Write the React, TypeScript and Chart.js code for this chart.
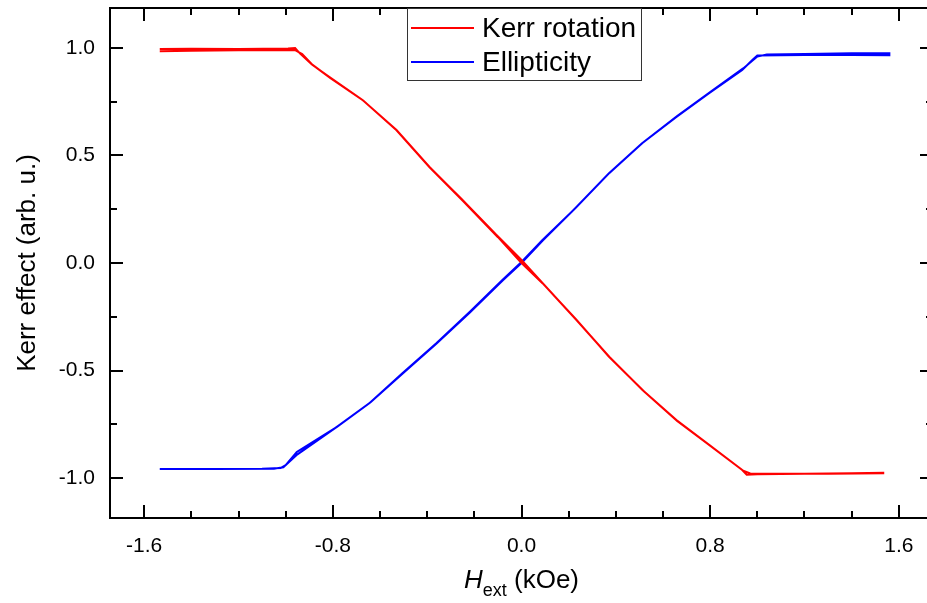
import React, { useEffect, useRef } from "react";
import { Chart, registerables } from "chart.js";

Chart.register(...registerables);

const FONT = '"Liberation Sans", Arial, Helvetica, sans-serif';

// Tick labels
const xTickValues = [-1.6, -0.8, 0.0, 0.8, 1.6];
const yTickValues = [-1.0, -0.5, 0.0, 0.5, 1.0];
const xMinorStep = 0.2;
const yMinorStep = 0.25;

const seriesNames = ["Kerr rotation", "Ellipticity"];
const seriesColors = ["#ff0000", "#0000ff"];

// Kerr rotation: field sweep up (kOe) and signal
const kerrFieldUp = [-1.534, -1.4, -1.2, -1.05, -0.96, -0.93, -0.886, -0.814, -0.674, -0.53, -0.39, -0.25, -0.106, 0.0, 0.089, 0.233, 0.373, 0.513, 0.657, 0.797, 0.936, 0.955, 1.0, 1.2, 1.4, 1.534];
const kerrUp = [0.985, 0.987, 0.989, 0.99, 0.99, 0.972, 0.921, 0.865, 0.758, 0.619, 0.447, 0.293, 0.13, 0.014, -0.093, -0.265, -0.437, -0.591, -0.73, -0.847, -0.963, -0.985, -0.982, -0.98, -0.978, -0.976];
// Kerr rotation: field sweep down
const kerrFieldDown = [1.534, 1.3, 1.1, 0.97, 0.94, 0.8, 0.66, 0.52, 0.37, 0.23, 0.09, 0.0, -0.1, -0.25, -0.39, -0.53, -0.67, -0.81, -0.89, -0.94, -0.96, -0.99, -1.2, -1.4, -1.534];
const kerrDown = [-0.978, -0.98, -0.98, -0.979, -0.966, -0.85, -0.735, -0.598, -0.435, -0.26, -0.095, 0.0, 0.12, 0.29, 0.445, 0.617, 0.755, 0.86, 0.925, 0.975, 1.0, 0.998, 0.995, 0.997, 0.995];

// Ellipticity: field sweep up and signal
const ellipFieldUp = [-1.534, -1.3, -1.1, -1.02, -1.0, -0.953, -0.784, -0.644, -0.504, -0.36, -0.22, -0.081, 0.0, 0.089, 0.233, 0.373, 0.513, 0.657, 0.797, 0.936, 0.98, 1.0, 1.2, 1.4, 1.56];
const ellipUp = [-0.958, -0.958, -0.957, -0.953, -0.94, -0.879, -0.763, -0.651, -0.512, -0.372, -0.228, -0.079, 0.005, 0.107, 0.26, 0.419, 0.558, 0.679, 0.791, 0.898, 0.945, 0.965, 0.967, 0.967, 0.966];
// Ellipticity: field sweep down
const ellipFieldDown = [1.56, 1.4, 1.2, 1.04, 1.0, 0.94, 0.8, 0.66, 0.51, 0.37, 0.23, 0.09, 0.0, -0.08, -0.22, -0.36, -0.5, -0.64, -0.78, -0.95, -1.01, -1.05, -1.3, -1.534];
const ellipDown = [0.976, 0.975, 0.972, 0.97, 0.96, 0.905, 0.795, 0.683, 0.556, 0.416, 0.257, 0.104, 0.0, -0.082, -0.232, -0.375, -0.51, -0.648, -0.76, -0.89, -0.95, -0.957, -0.958, -0.958];

const xRange = [-1.745, 1.745];
const yRange = [-1.186, 1.186];

const toPoints = (xs: number[], ys: number[]) => xs.map((x, i) => ({ x, y: ys[i] }));

const framePlugin = {
  id: "frameAndDecor",
  afterDraw(chart: any) {
    const { ctx, chartArea } = chart;
    const { left, right, top, bottom } = chartArea;
    const xs = chart.scales.x;
    const ys = chart.scales.y;
    ctx.save();
    ctx.strokeStyle = "#000";
    ctx.lineWidth = 2;
    ctx.lineCap = "butt";
    ctx.strokeRect(left, top, right - left, bottom - top);

    // x ticks (top and bottom, inward)
    const nx = Math.round(xTickValues[xTickValues.length - 1] / xMinorStep);
    for (let i = -nx; i <= nx; i++) {
      const v = i * xMinorStep;
      const major = xTickValues.some((t) => Math.abs(t - v) < 1e-6);
      const len = major ? 13 : 7;
      const px = Math.round(xs.getPixelForValue(v));
      ctx.beginPath();
      ctx.moveTo(px, bottom);
      ctx.lineTo(px, bottom - len);
      ctx.moveTo(px, top);
      ctx.lineTo(px, top + len);
      ctx.stroke();
    }
    // y ticks (left and right, inward)
    const ny = Math.round(yTickValues[yTickValues.length - 1] / yMinorStep);
    for (let i = -ny; i <= ny; i++) {
      const v = i * yMinorStep;
      const major = yTickValues.some((t) => Math.abs(t - v) < 1e-6);
      const len = major ? 13 : 7;
      const py = Math.round(ys.getPixelForValue(v));
      ctx.beginPath();
      ctx.moveTo(left, py);
      ctx.lineTo(left + len, py);
      ctx.moveTo(right, py);
      ctx.lineTo(right - len, py);
      ctx.stroke();
    }

    // Legend
    const lx = 407.5, ly = 8.5, lw = 234, lh = 72;
    ctx.fillStyle = "#fff";
    ctx.fillRect(lx, ly, lw, lh);
    ctx.lineWidth = 1;
    ctx.strokeStyle = "#333";
    ctx.strokeRect(lx, ly, lw, lh);
    ctx.font = `28px ${FONT}`;
    ctx.textBaseline = "middle";
    ctx.textAlign = "left";
    const rows = [28, 62];
    seriesNames.forEach((name, i) => {
      ctx.strokeStyle = seriesColors[i];
      ctx.lineWidth = 2;
      ctx.beginPath();
      ctx.moveTo(411, rows[i]);
      ctx.lineTo(474, rows[i]);
      ctx.stroke();
      ctx.fillStyle = "#000";
      ctx.fillText(name, 482, rows[i] + 1);
    });

    // Y title
    ctx.save();
    ctx.translate(28, (top + bottom) / 2);
    ctx.rotate(-Math.PI / 2);
    ctx.font = `26px ${FONT}`;
    ctx.textAlign = "center";
    ctx.textBaseline = "middle";
    ctx.fillStyle = "#000";
    ctx.fillText("Kerr effect (arb. u.)", 0, 0);
    ctx.restore();

    // X title: H_ext (kOe)
    const base = 588;
    ctx.textBaseline = "alphabetic";
    ctx.textAlign = "left";
    ctx.fillStyle = "#000";
    ctx.font = `italic 26px ${FONT}`;
    const wH = ctx.measureText("H").width;
    ctx.font = `18px ${FONT}`;
    const wS = ctx.measureText("ext").width;
    ctx.font = `26px ${FONT}`;
    const wR = ctx.measureText(" (kOe)").width;
    const total = wH + wS + wR;
    let cx = xs.getPixelForValue(0) - total / 2;
    ctx.font = `italic 26px ${FONT}`;
    ctx.fillText("H", cx, base);
    cx += wH;
    ctx.font = `18px ${FONT}`;
    ctx.fillText("ext", cx, base + 8);
    cx += wS;
    ctx.font = `26px ${FONT}`;
    ctx.fillText(" (kOe)", cx, base);

    ctx.restore();
  },
};

export default function App() {
  const canvasRef = useRef<HTMLCanvasElement | null>(null);

  useEffect(() => {
    const canvas = canvasRef.current;
    if (!canvas) return;
    const chart = new Chart(canvas, {
      type: "scatter",
      data: {
        datasets: [
          {
            label: seriesNames[0],
            data: [...toPoints(kerrFieldUp, kerrUp), ...toPoints(kerrFieldDown, kerrDown)],
            borderColor: seriesColors[0],
            backgroundColor: seriesColors[0],
            showLine: true,
            borderWidth: 2,
            pointRadius: 0,
            tension: 0,
          },
          {
            label: seriesNames[1],
            data: [...toPoints(ellipFieldUp, ellipUp), ...toPoints(ellipFieldDown, ellipDown)],
            borderColor: seriesColors[1],
            backgroundColor: seriesColors[1],
            showLine: true,
            borderWidth: 2,
            pointRadius: 0,
            tension: 0,
          },
        ],
      },
      options: {
        responsive: false,
        animation: false,
        devicePixelRatio: 1,
        layout: { padding: { top: 8, right: 7, left: 0, bottom: 0 } },
        plugins: {
          legend: { display: false },
          tooltip: { enabled: false },
          title: { display: false },
        },
        scales: {
          x: {
            type: "linear",
            min: xRange[0],
            max: xRange[1],
            grid: { display: false, drawTicks: false },
            border: { display: false },
            ticks: {
              padding: 16,
              color: "#000",
              font: { family: FONT, size: 21 },
              callback: (v: any) => Number(v).toFixed(1),
              maxRotation: 0,
            },
            afterBuildTicks: (s: any) => {
              s.ticks = xTickValues.map((value) => ({ value }));
            },
            afterFit: (s: any) => {
              s.height = 85;
              s.paddingLeft = 0;
              s.paddingRight = 0;
              s.paddingTop = 0;
              s.paddingBottom = 0;
            },
          },
          y: {
            type: "linear",
            min: yRange[0],
            max: yRange[1],
            grid: { display: false, drawTicks: false },
            border: { display: false },
            ticks: {
              padding: 15,
              color: "#000",
              font: { family: FONT, size: 21 },
              callback: (v: any) => Number(v).toFixed(1),
            },
            afterBuildTicks: (s: any) => {
              s.ticks = yTickValues.map((value) => ({ value }));
            },
            afterFit: (s: any) => {
              s.width = 110;
              s.paddingLeft = 0;
              s.paddingRight = 0;
              s.paddingTop = 0;
              s.paddingBottom = 0;
            },
          },
        },
      },
      plugins: [framePlugin],
    } as any);
    return () => chart.destroy();
  }, []);

  return (
    <div
      style={{
        position: "fixed",
        left: 0,
        top: 0,
        width: 927,
        height: 603,
        overflow: "hidden",
        background: "#fff",
      }}
    >
      <canvas ref={canvasRef} width={940} height={603} style={{ display: "block", width: 940, height: 603 }} />
    </div>
  );
}
